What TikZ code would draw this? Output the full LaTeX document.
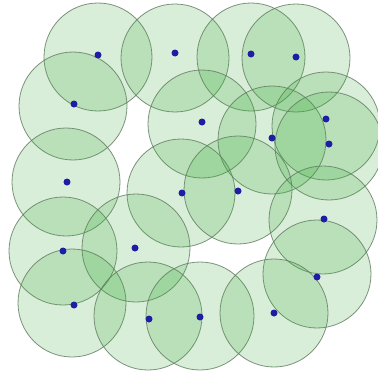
\documentclass[tikz,border=0pt]{standalone}
\begin{document}
\begin{tikzpicture}[x=1pt,y=-1pt,
  zone/.style={circle,minimum size=108pt,inner sep=0pt,draw={rgb,255:red,95;green,120;blue,95},line width=0.8pt,fill={rgb,255:red,60;green,170;blue,60},fill opacity=0.2,draw opacity=0.8},
  sensor/.style={circle,minimum size=7pt,inner sep=0pt,fill={rgb,255:red,30;green,30;blue,165}}]
\useasboundingbox (0,0) rectangle (378,372);
\foreach \x/\y [count=\i] in {98/57,175/58,251/57,296/58,73/106,202/124,326/126,272/140,329/146,66/182,181/193,238/190,323/220,63/251,136/248,317/274,72/303,148/316,200/316,274/313}{
  \node[zone] (c\i) at (\x,\y) {};
}
\foreach \x/\y [count=\i] in {98/55,175/53,251/54,296/57,74/104,202/122,326/119,272/138,329/144,67/182,182/193,238/191,324/219,63/251,135/248,317/277,74/305,149/319,200/317,274/313}{
  \node[sensor] (s\i) at (\x,\y) {};
}
\end{tikzpicture}
\end{document}
